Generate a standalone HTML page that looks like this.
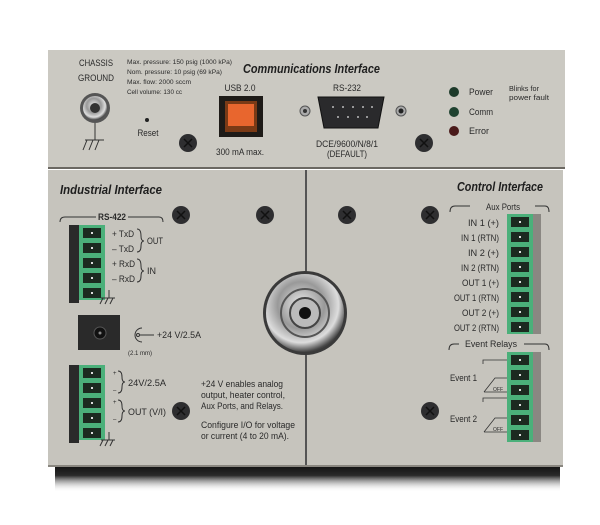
<!DOCTYPE html>
<html><head><meta charset="utf-8"><style>
html,body{margin:0;padding:0;background:#fff;}
svg{display:block;}
text{font-family:"Liberation Sans",sans-serif;fill:#2a2a2a;}
.t{font-size:9px;}
.s{font-size:6px;}
.h{font-size:13px;font-weight:bold;font-style:italic;fill:#1e1e1e;}
</style></head><body>
<svg width="600" height="525" viewBox="0 0 600 525" xmlns="http://www.w3.org/2000/svg">
<defs>
<linearGradient id="sh" x1="0" y1="0" x2="0" y2="1">
<stop offset="0" stop-color="#0a0a0a"/><stop offset="0.45" stop-color="#2a2a2a"/><stop offset="1" stop-color="#fff" stop-opacity="0"/>
</linearGradient>
<radialGradient id="met" cx="0.45" cy="0.4" r="0.6">
<stop offset="0" stop-color="#eee"/><stop offset="0.5" stop-color="#999"/><stop offset="0.8" stop-color="#ddd"/><stop offset="1" stop-color="#444"/>
</radialGradient>
<g id="screw"><circle r="9" fill="#2e2e30"/><path d="M-4,-4 L4,4 M-4,4 L4,-4" stroke="#111" stroke-width="1.5"/></g>
<g id="pin"><rect x="0" y="0" width="26" height="15" fill="#4bb07a"/><rect x="4" y="3" width="18" height="10" fill="#1c2a20"/><rect x="12" y="7" width="2" height="2" fill="#ddd"/></g>
<g id="gnd"><path d="M0,0 V8 M-8,8 H6 M-6,8 L-9,14 M-1,8 L-4,14 M4,8 L1,14" stroke="#333" stroke-width="1" fill="none"/></g>
</defs>
<rect x="55" y="462" width="505" height="30" fill="url(#sh)"/>
<rect x="48" y="50" width="517" height="118" fill="#cbc9c2"/>
<rect x="48" y="167" width="517" height="2" fill="#6b6862"/>
<rect x="48" y="170" width="257" height="296" fill="#c6c4bd"/>
<rect x="307" y="170" width="256" height="296" fill="#c6c4bd"/>
<rect x="305" y="170" width="2" height="296" fill="#555"/>
<rect x="48" y="465" width="515" height="2" fill="#8a8780"/>

<text class="t" x="96" y="66" text-anchor="middle" textLength="34" lengthAdjust="spacingAndGlyphs">CHASSIS</text>
<text class="t" x="96" y="81" text-anchor="middle" textLength="36" lengthAdjust="spacingAndGlyphs">GROUND</text>
<circle cx="95" cy="108" r="15" fill="#555"/><circle cx="95" cy="108" r="12" fill="url(#met)"/><circle cx="95" cy="108" r="5" fill="#333"/>
<path d="M95,123 V140 M85,140 H104 M87,140 L83,150 M93,140 L89,150 M99,140 L95,150" stroke="#333" fill="none"/>
<text class="s" x="127" y="64" textLength="105" lengthAdjust="spacingAndGlyphs">Max. pressure: 150 psig (1000 kPa)</text>
<text class="s" x="127" y="74" textLength="95" lengthAdjust="spacingAndGlyphs">Nom. pressure: 10 psig (69 kPa)</text>
<text class="s" x="127" y="84" textLength="64" lengthAdjust="spacingAndGlyphs">Max. flow: 2000 sccm</text>
<text class="s" x="127" y="94" textLength="55" lengthAdjust="spacingAndGlyphs">Cell volume: 130 cc</text>
<circle cx="147" cy="120" r="2" fill="#222"/>
<text class="t" x="148" y="136" text-anchor="middle" textLength="21" lengthAdjust="spacingAndGlyphs">Reset</text>
<text class="h" x="243" y="73" textLength="137" lengthAdjust="spacingAndGlyphs">Communications Interface</text>
<text class="t" x="240" y="91" text-anchor="middle" textLength="31" lengthAdjust="spacingAndGlyphs">USB 2.0</text>
<rect x="219" y="96" width="44" height="41" fill="#1e1b18"/>
<rect x="225" y="101" width="32" height="31" fill="#7a3a16"/><rect x="228" y="104" width="26" height="22" fill="#e8662e"/>
<text class="t" x="240" y="155" text-anchor="middle" textLength="48" lengthAdjust="spacingAndGlyphs">300 mA max.</text>
<use href="#screw" x="188" y="143"/>
<text class="t" x="347" y="91" text-anchor="middle" textLength="28" lengthAdjust="spacingAndGlyphs">RS-232</text>
<path d="M318,97 H384 L378,128 H324 Z" fill="#2a2a2c" stroke="#111"/>
<g fill="#bbb"><circle cx="333" cy="107" r="1"/><circle cx="343" cy="107" r="1"/><circle cx="353" cy="107" r="1"/><circle cx="363" cy="107" r="1"/><circle cx="372" cy="107" r="1"/><circle cx="338" cy="117" r="1"/><circle cx="348" cy="117" r="1"/><circle cx="358" cy="117" r="1"/><circle cx="367" cy="117" r="1"/></g>
<circle cx="305" cy="111" r="5" fill="#aaa" stroke="#555"/><circle cx="305" cy="111" r="2" fill="#333"/>
<circle cx="401" cy="111" r="5" fill="#aaa" stroke="#555"/><circle cx="401" cy="111" r="2.5" fill="#222"/>
<text class="t" x="347" y="147" text-anchor="middle" textLength="62" lengthAdjust="spacingAndGlyphs">DCE/9600/N/8/1</text>
<text class="t" x="347" y="157" text-anchor="middle" textLength="40" lengthAdjust="spacingAndGlyphs">(DEFAULT)</text>
<use href="#screw" x="424" y="143"/>
<circle cx="454" cy="92" r="5" fill="#1d3a2a"/><circle cx="454" cy="112" r="5" fill="#1f4230"/><circle cx="454" cy="131" r="5" fill="#4a1a1a"/>
<text class="t" x="469" y="95" textLength="24" lengthAdjust="spacingAndGlyphs">Power</text>
<text class="t" x="469" y="115" textLength="24" lengthAdjust="spacingAndGlyphs">Comm</text>
<text class="t" x="469" y="134" textLength="20" lengthAdjust="spacingAndGlyphs">Error</text>
<text class="s" x="509" y="91" style="font-size:7.5px" textLength="30" lengthAdjust="spacingAndGlyphs">Blinks for</text>
<text class="s" x="509" y="100" style="font-size:7.5px" textLength="40" lengthAdjust="spacingAndGlyphs">power fault</text>

<text class="h" x="60" y="194" textLength="102" lengthAdjust="spacingAndGlyphs">Industrial Interface</text>
<path d="M60,222 Q60,217 65,217 H96 M128,217 H159 Q163,217 163,222" stroke="#333" fill="none"/>
<text class="t" x="112" y="220" text-anchor="middle" style="font-weight:bold" textLength="28" lengthAdjust="spacingAndGlyphs">RS-422</text>
<use href="#screw" x="181" y="215"/><use href="#screw" x="265" y="215"/>
<rect x="69" y="225" width="10" height="78" fill="#2a2a2a"/>
<use href="#pin" x="79" y="225"/><use href="#pin" x="79" y="240"/><use href="#pin" x="79" y="255"/><use href="#pin" x="79" y="270"/><use href="#pin" x="79" y="285"/>
<text class="t" x="112" y="237" textLength="22" lengthAdjust="spacingAndGlyphs">+ TxD</text><text class="t" x="112" y="252" textLength="22" lengthAdjust="spacingAndGlyphs">– TxD</text>
<text class="t" x="112" y="267" textLength="23" lengthAdjust="spacingAndGlyphs">+ RxD</text><text class="t" x="112" y="282" textLength="23" lengthAdjust="spacingAndGlyphs">– RxD</text>
<path d="M137,229 Q141,229 141,236 Q141,241 144,241 Q141,241 141,246 Q141,252 137,252 M137,259 Q141,259 141,266 Q141,271 144,271 Q141,271 141,276 Q141,282 137,282" stroke="#333" fill="none"/>
<text class="t" x="147" y="244" textLength="16" lengthAdjust="spacingAndGlyphs">OUT</text><text class="t" x="147" y="274">IN</text>
<use href="#gnd" x="109" y="290"/>
<rect x="78" y="315" width="42" height="35" fill="#2a2a2a"/><circle cx="100" cy="333" r="6" fill="#111" stroke="#555"/><circle cx="100" cy="333" r="1.5" fill="#888"/>
<path d="M142,328 A7,7 0 1 0 142,342" stroke="#333" fill="none"/><circle cx="138" cy="335" r="1.5" fill="none" stroke="#333"/><line x1="140" y1="335" x2="154" y2="335" stroke="#333"/>
<text class="t" x="157" y="338" textLength="44" lengthAdjust="spacingAndGlyphs">+24 V/2.5A</text>
<text class="s" x="128" y="355" textLength="24" lengthAdjust="spacingAndGlyphs">(2.1 mm)</text>
<rect x="69" y="365" width="10" height="78" fill="#2a2a2a"/>
<use href="#pin" x="79" y="365"/><use href="#pin" x="79" y="380"/><use href="#pin" x="79" y="395"/><use href="#pin" x="79" y="410"/><use href="#pin" x="79" y="425"/>
<text class="s" x="113" y="375">+</text><text class="s" x="113" y="392">–</text><text class="s" x="113" y="404">+</text><text class="s" x="113" y="421">–</text>
<path d="M118,371 Q122,371 122,377 Q122,382 125,382 Q122,382 122,387 Q122,393 118,393 M118,400 Q122,400 122,406 Q122,411 125,411 Q122,411 122,416 Q122,422 118,422" stroke="#333" fill="none"/>
<text class="t" x="128" y="386" textLength="38" lengthAdjust="spacingAndGlyphs">24V/2.5A</text>
<text class="t" x="128" y="415" textLength="38" lengthAdjust="spacingAndGlyphs">OUT (V/I)</text>
<use href="#gnd" x="109" y="432"/>
<use href="#screw" x="181" y="411"/>
<text class="t" x="201" y="387" textLength="82" lengthAdjust="spacingAndGlyphs">+24 V enables analog</text>
<text class="t" x="201" y="398" textLength="84" lengthAdjust="spacingAndGlyphs">output, heater control,</text>
<text class="t" x="201" y="409" textLength="82" lengthAdjust="spacingAndGlyphs">Aux Ports, and Relays.</text>
<text class="t" x="201" y="428" textLength="94" lengthAdjust="spacingAndGlyphs">Configure I/O for  voltage</text>
<text class="t" x="201" y="439" textLength="88" lengthAdjust="spacingAndGlyphs">or current (4 to 20 mA).</text>

<circle cx="305" cy="313" r="42" fill="#3a3a3a"/>
<circle cx="305" cy="313" r="39" fill="url(#met)"/>
<circle cx="305" cy="313" r="24" fill="none" stroke="#555" stroke-width="2"/>
<circle cx="305" cy="313" r="15" fill="#bbb" stroke="#444" stroke-width="2"/>
<circle cx="305" cy="313" r="6" fill="#111"/>

<text class="h" x="543" y="191" text-anchor="end" textLength="86" lengthAdjust="spacingAndGlyphs">Control Interface</text>
<path d="M450,212 Q450,206 455,206 H470 M535,206 H545 Q549,206 549,212" stroke="#333" fill="none"/>
<text class="t" x="503" y="210" text-anchor="middle" textLength="34" lengthAdjust="spacingAndGlyphs">Aux Ports</text>
<use href="#screw" x="347" y="215"/><use href="#screw" x="430" y="215"/>
<use href="#pin" x="507" y="214"/><use href="#pin" x="507" y="229"/><use href="#pin" x="507" y="244"/><use href="#pin" x="507" y="259"/><use href="#pin" x="507" y="274"/><use href="#pin" x="507" y="289"/><use href="#pin" x="507" y="304"/><use href="#pin" x="507" y="319"/>
<rect x="533" y="214" width="8" height="120" fill="#8a8782"/>
<text class="t" x="499" y="226" text-anchor="end" textLength="31" lengthAdjust="spacingAndGlyphs">IN 1 (+)</text>
<text class="t" x="499" y="241" text-anchor="end" textLength="38" lengthAdjust="spacingAndGlyphs">IN 1 (RTN)</text>
<text class="t" x="499" y="256" text-anchor="end" textLength="31" lengthAdjust="spacingAndGlyphs">IN 2 (+)</text>
<text class="t" x="499" y="271" text-anchor="end" textLength="38" lengthAdjust="spacingAndGlyphs">IN 2 (RTN)</text>
<text class="t" x="499" y="286" text-anchor="end" textLength="37" lengthAdjust="spacingAndGlyphs">OUT 1 (+)</text>
<text class="t" x="499" y="301" text-anchor="end" textLength="45" lengthAdjust="spacingAndGlyphs">OUT 1 (RTN)</text>
<text class="t" x="499" y="316" text-anchor="end" textLength="37" lengthAdjust="spacingAndGlyphs">OUT 2 (+)</text>
<text class="t" x="499" y="331" text-anchor="end" textLength="45" lengthAdjust="spacingAndGlyphs">OUT 2 (RTN)</text>
<path d="M449,350 Q449,344 454,344 H459 M524,344 H545 Q549,344 549,350" stroke="#333" fill="none"/>
<text class="t" x="491" y="347" text-anchor="middle" textLength="52" lengthAdjust="spacingAndGlyphs">Event Relays</text>
<use href="#pin" x="507" y="352"/><use href="#pin" x="507" y="367"/><use href="#pin" x="507" y="382"/><use href="#pin" x="507" y="397"/><use href="#pin" x="507" y="412"/><use href="#pin" x="507" y="427"/>
<rect x="533" y="352" width="8" height="90" fill="#8a8782"/>
<text class="t" x="450" y="381" textLength="27" lengthAdjust="spacingAndGlyphs">Event 1</text>
<text class="t" x="450" y="422" textLength="27" lengthAdjust="spacingAndGlyphs">Event 2</text>
<path d="M483,364 V360 H507 M484,392 L495,378 H507 M484,392 H507 M483,402 V398 H507 M484,432 L495,418 H507 M484,432 H507" stroke="#333" fill="none" stroke-width="0.8"/>
<text x="493" y="391" style="font-size:5px">OFF</text><text x="493" y="431" style="font-size:5px">OFF</text>
<use href="#screw" x="430" y="411"/>
</svg>
</body></html>
